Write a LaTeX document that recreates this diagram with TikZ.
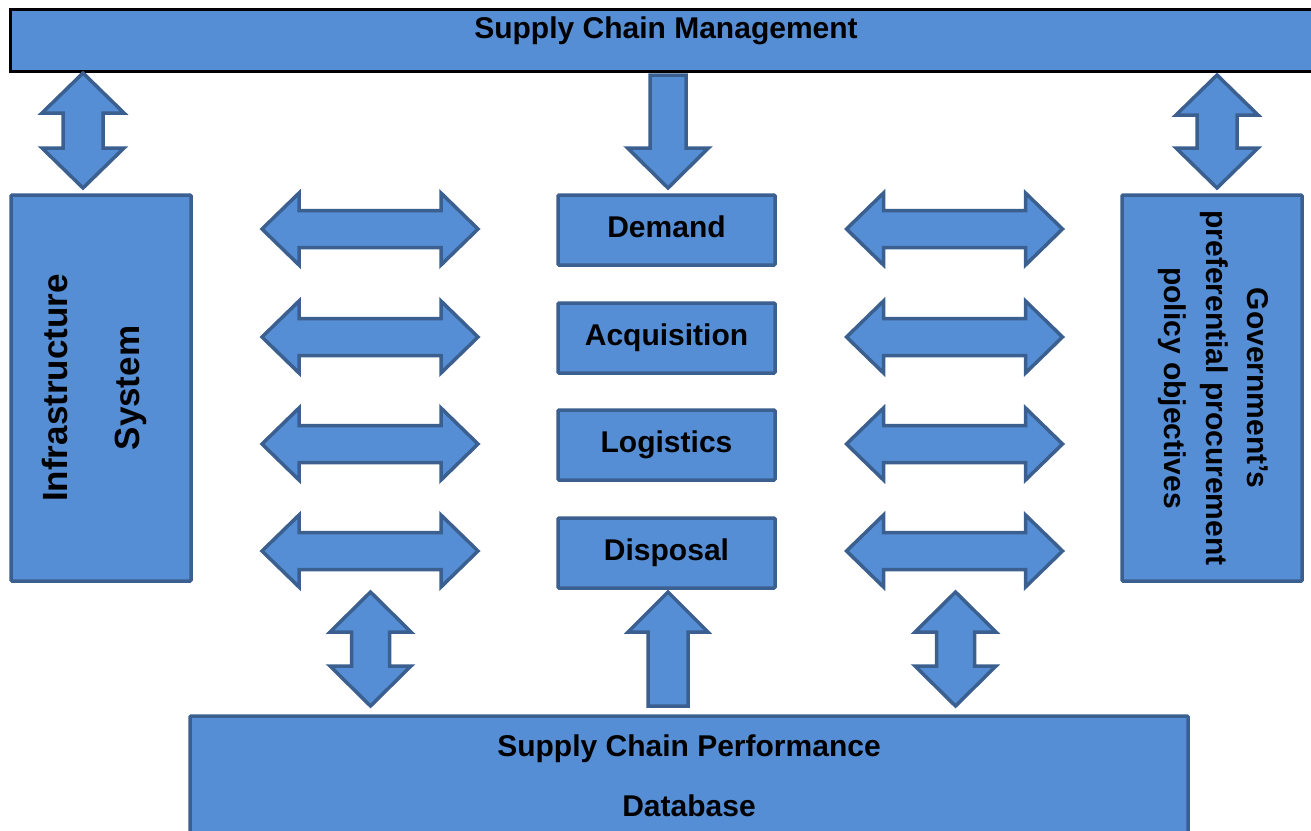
\documentclass[tikz,border=0pt]{standalone}
\usepackage{fontspec}
\setmainfont{Liberation Sans}
\definecolor{boxblue}{HTML}{558ED5}
\definecolor{edgeblue}{HTML}{3B5F8F}
\tikzset{
  pics/dblarrow/.style n args={4}{code={
    \draw[arrowline] (-#1/2,0) -- (-#1/2+#4,#2/2) -- (-#1/2+#4,#3/2) -- (#1/2-#4,#3/2)
      -- (#1/2-#4,#2/2) -- (#1/2,0) -- (#1/2-#4,-#2/2) -- (#1/2-#4,-#3/2)
      -- (-#1/2+#4,-#3/2) -- (-#1/2+#4,-#2/2) -- cycle;
  }},
  pics/onearrow/.style n args={4}{code={
    \draw[arrowline] (-#1/2,#3/2) -- (#1/2-#4,#3/2) -- (#1/2-#4,#2/2) -- (#1/2,0)
      -- (#1/2-#4,-#2/2) -- (#1/2-#4,-#3/2) -- (-#1/2,-#3/2) -- cycle;
  }}
}
\begin{document}
\begin{tikzpicture}[x=1pt,y=-1pt,
    arrowline/.style={draw=edgeblue,fill=boxblue,line width=3.5pt},
    bluebox/.style={draw=edgeblue,fill=boxblue,line width=3.5pt,rounded corners=1pt,inner sep=0pt},
    stagebox/.style={bluebox,minimum width=217pt,minimum height=70pt,
      font=\fontsize{30}{36}\selectfont\bfseries,text height=21.6pt,text depth=6pt},
    sidebox/.style={bluebox,minimum width=180pt,minimum height=386pt},
    bigfont/.style={font=\fontsize{30}{36}\selectfont\bfseries}]
  \useasboundingbox (0,0) rectangle (1311,830);

  % frame boxes
  \node[draw=black,fill=boxblue,line width=3pt,inner sep=0pt,
    minimum width=1320pt,minimum height=62pt] (scm) at (670,40) {};
  \node[bigfont] (scmtext) at (666,31) {Supply Chain Management};
  \node[bluebox,minimum width=998pt,minimum height=134pt] (scp) at (689,783) {};
  \node[bigfont,align=center,font=\fontsize{30}{60}\selectfont\bfseries] (scptext)
    at (689,776) {Supply Chain Performance\\Database};

  \node[sidebox] (infra) at (101,388) {};
  \node[rotate=90,align=center,font=\fontsize{35}{72}\selectfont\bfseries] (infratext)
    at (94,388) {Infrastructure\\System};
  \node[sidebox] (gov) at (1212,388) {};
  \node[rotate=-90,align=center,font=\fontsize{30}{41.5}\selectfont\bfseries] (govtext)
    at (1213.5,388) {Government’s\\preferential procurement\\policy objectives};

  % stages
  \node[stagebox] (demand) at (666.5,230) {Demand};
  \node[stagebox] (acquisition) at (666.5,338) {Acquisition};
  \node[stagebox] (logistics) at (666.5,445) {Logistics};
  \node[stagebox] (disposal) at (666.5,553) {Disposal};

  % top arrows
  \pic[rotate=90] at (83,130.5) {dblarrow={115}{82}{40}{40}};
  \pic[rotate=-90] at (668,131.5) {onearrow={113}{81}{36}{40}};
  \pic[rotate=90] at (1217,131.5) {dblarrow={113}{82}{40}{40}};

  % side arrows
  \pic at (370,229) {dblarrow={216}{72}{37}{37}};
  \pic at (370,337) {dblarrow={216}{72}{37}{37}};
  \pic at (370,444) {dblarrow={216}{72}{37}{37}};
  \pic at (370,551) {dblarrow={216}{72}{37}{37}};
  \pic at (954.5,229) {dblarrow={216}{72}{37}{37}};
  \pic at (954.5,337) {dblarrow={216}{72}{37}{37}};
  \pic at (954.5,444) {dblarrow={216}{72}{37}{37}};
  \pic at (954.5,551) {dblarrow={216}{72}{37}{37}};

  % bottom arrows
  \pic[rotate=90] at (370.5,649) {dblarrow={114}{81}{38}{40}};
  \pic[rotate=90] at (668,649) {onearrow={114}{80}{40}{40}};
  \pic[rotate=90] at (955.5,649) {dblarrow={114}{81}{38}{40}};
\end{tikzpicture}
\end{document}
